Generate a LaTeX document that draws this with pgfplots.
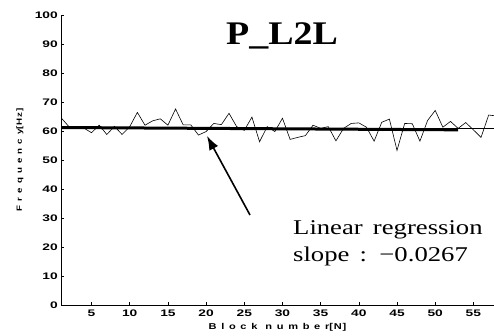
\documentclass[border=0pt]{standalone}
\usepackage{fontspec}
\setmainfont{Liberation Serif}
\newfontfamily\titlefont{Liberation Serif}[FakeStretch=1.15]
\newfontfamily\annfont{Liberation Serif}[FakeStretch=1.27]
\newfontfamily\tickfont{Liberation Sans}[FakeStretch=1.45]
\newfontfamily\labfont{Liberation Sans}[FakeStretch=1.3,LetterSpace=55]
\newfontfamily\labfontb{Liberation Sans}[FakeStretch=1.3,LetterSpace=10]
\usepackage{pgfplots}
\pgfplotsset{compat=1.18}
\usetikzlibrary{arrows.meta}
\pgfplotstableread{
x y
1 64.6
2 61.6
3 61.1
4 61.0
5 59.4
6 62.0
7 58.8
8 61.6
9 58.8
10 61.5
11 66.4
12 62.0
13 63.5
14 64.2
15 62.0
16 67.6
17 62.1
18 62.1
19 58.6
20 59.8
21 62.6
22 62.2
23 66.1
24 61.5
25 60.2
26 64.8
27 56.3
28 61.5
29 59.8
30 64.4
31 57.1
32 57.8
33 58.4
34 62.0
35 60.9
36 61.5
37 56.6
38 60.9
39 62.6
40 62.8
41 61.3
42 56.5
43 63.0
44 64.1
45 53.3
46 62.6
47 62.5
48 56.5
49 63.6
50 67.1
51 61.3
52 63.3
53 60.9
54 62.9
55 60.4
56 57.8
57 65.5
58 65.2
}\freq
\begin{document}
\begin{tikzpicture}
\useasboundingbox (-61pt,-31pt) rectangle (433pt,305pt);
\begin{axis}[
  scale only axis, width=433pt, height=290pt,
  xmin=1, xmax=57.7, ymin=0, ymax=100,
  axis lines*=left,
  axis line style={line width=0.9pt},
  xtick={5,10,...,55}, ytick={0,10,...,100},
  tick align=inside, major tick length=3pt,
  tick style={black, line width=0.6pt},
  /pgf/number format/assume math mode=true,
  tick label style={font=\tickfont\bfseries\fontsize{9.5}{9.5}\selectfont, inner sep=0pt},
  yticklabel style={xshift=-3pt},
  xticklabel style={yshift=-5pt},
  every axis y label/.style={at={(axis description cs:0,0.5)}, xshift=-41pt, rotate=90, anchor=center},
  every axis x label/.style={at={(axis description cs:0.5,0)}, yshift=-22pt, anchor=center},
  xlabel={\labfont\bfseries\fontsize{8.5}{8.5}\selectfont Block\hspace{8pt}number\labfontb\bfseries[N]},
  ylabel={\labfont\bfseries\fontsize{7.5}{7.5}\selectfont Frequency\labfontb\bfseries[Hz]},
]
\addplot[black, line width=0.5pt] coordinates {(1,60.9) (58,60.9)};
\addplot[black, line width=0.6pt] table[x=x,y=y] {\freq};
\addplot[black, line width=3pt] coordinates {(1,61.2) (53,60.4)};
\end{axis}
\node[anchor=base west, inner sep=0pt] at (165pt,260pt) {\titlefont\bfseries\fontsize{33}{33}\selectfont P\_L2L};
\node[anchor=base west, inner sep=0pt] at (232pt,70pt) {\annfont\fontsize{21}{21}\selectfont Linear\, regression};
\node[anchor=base west, inner sep=0pt] at (232pt,43pt) {\annfont\fontsize{21}{21}\selectfont slope\, :\, −0.0267};
\draw[line width=1.6pt, -{Latex[length=14pt,width=10pt]}] (189pt,90pt) -- (146pt,169pt);
\end{tikzpicture}
\end{document}
